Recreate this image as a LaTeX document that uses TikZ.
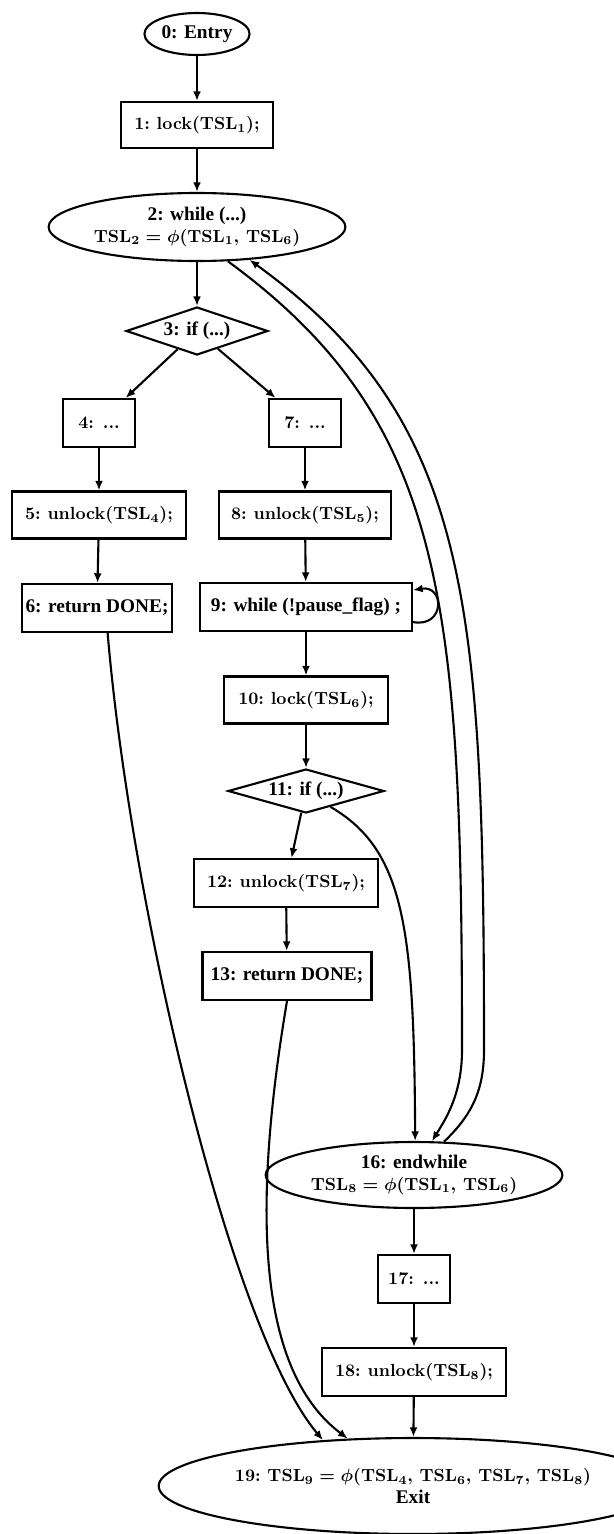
\documentclass[tikz,border=0pt]{standalone}
\usepackage{fontspec}
\newfontfamily\tms{Liberation Serif}
\usetikzlibrary{shapes.geometric, arrows.meta}

\newcommand\tmfont{\tms\bfseries\fontsize{11}{13}\selectfont}

\tikzset{
  box/.style={draw, rectangle, inner sep=2pt},
  oval/.style={draw, ellipse, inner sep=1pt, align=center},
  test/.style={draw, diamond, aspect=3, inner sep=0pt},
  cmtext/.style={font=\bfseries\boldmath\fontsize{10}{12}\selectfont},
  tmtext/.style={font=\tmfont},
}

\begin{document}
\begin{tikzpicture}[>={Latex[length=5.5pt,width=4.5pt]}, x=0.02cm, y=-0.02cm, line width=1.2pt]
    \useasboundingbox (0,0) rectangle (613,1534);

    % Các nút
    \node[oval, tmtext, minimum width=1.92cm, minimum height=0.84cm] (n0) at (197,34) {0: Entry};
    \node[box, cmtext, minimum width=3.04cm, minimum height=0.92cm] (n1) at (197,125) {1:~lock(TSL$_1$);};
    \node[oval, cmtext, minimum width=5.28cm, minimum height=1.36cm] (n2) at (197,227)
        {{\tmfont 2: while (...)}\\TSL$_2 = \phi$(TSL$_1$, TSL$_6$)};
    \node[test, tmtext, minimum width=2.84cm, minimum height=0.96cm] (n3) at (197,331) {3: if (...)};
    \node[box, cmtext, minimum width=1.44cm, minimum height=0.96cm] (n4) at (99,423) {4: ...};
    \node[box, cmtext, minimum width=1.44cm, minimum height=0.96cm] (n7) at (305,423) {7: ...};
    \node[box, cmtext, minimum width=3.48cm, minimum height=0.94cm] (n5) at (99,515) {5:~unlock(TSL$_4$);};
    \node[box, cmtext, minimum width=3.44cm, minimum height=0.94cm] (n8) at (305,515) {8:~unlock(TSL$_5$);};
    \node[box, tmtext, minimum width=2.98cm, minimum height=0.96cm] (n6) at (97,608) {6: return DONE;};
    \node[box, tmtext, minimum width=4.24cm, minimum height=0.96cm] (n9) at (306,607) {9: while (!pause\_flag) ;};
    \node[box, cmtext, minimum width=3.28cm, minimum height=0.94cm] (n10) at (306,700) {10:~lock(TSL$_6$);};
    \node[test, tmtext, minimum width=3.12cm, minimum height=0.88cm] (n11) at (306,791) {11: if (...)};
    \node[box, cmtext, minimum width=3.68cm, minimum height=0.96cm] (n12) at (286,883) {12:~unlock(TSL$_7$);};
    \node[box, tmtext, minimum width=3.38cm, minimum height=0.96cm] (n13) at (287,976) {13: return DONE;};
    \node[oval, cmtext, minimum width=5.24cm, minimum height=1.32cm] (n16) at (414,1175)
        {{\tmfont 16: endwhile}\\TSL$_8 = \phi$(TSL$_1$, TSL$_6$)};
    \node[box, cmtext, minimum width=1.44cm, minimum height=0.96cm] (n17) at (414,1279) {17: ...};
    \node[box, cmtext, minimum width=3.68cm, minimum height=0.96cm] (n18) at (414,1372) {18:~unlock(TSL$_8$);};
    \node[oval, cmtext, minimum width=8.28cm, minimum height=1.92cm] (n19) at (413,1486)
        {19:~TSL$_9 = \phi$(TSL$_4$, TSL$_6$, TSL$_7$, TSL$_8$)\\{\tmfont Exit}};

    % Cạnh thẳng
    \foreach \a/\b in {n0/n1, n1/n2, n2/n3, n3/n4, n3/n7, n4/n5, n5/n6, n7/n8, n8/n9,
                       n9/n10, n10/n11, n11/n12, n12/n13, n16/n17, n17/n18, n18/n19} {
        \draw[->] (\a) -- (\b);
    }

    % Vòng lặp tại nút 9
    \draw[->] (n9.-8) .. controls (445,628) and (445,585) .. (n9.9);

    % Cạnh giữa 2 và 16
    \draw[->] (n2.-48) .. controls (445,420) and (462,600) .. (462,1050)
        .. controls (462,1095) and (445,1120) .. (n16.62);
    \draw[->] (n16.48) .. controls (472,1115) and (484,1090) .. (484,1050)
        .. controls (484,600) and (470,420) .. (n2.-32);

    % Các cạnh cong còn lại
    \draw[->] (n11.-33) .. controls (405,850) and (414,930) .. (n16.88);
    \draw[->] (n6.-67) .. controls (130,900) and (230,1330) .. (n19.153);
    \draw[->] (n13.south) .. controls (245,1250) and (270,1380) .. (n19.144);
\end{tikzpicture}
\end{document}
